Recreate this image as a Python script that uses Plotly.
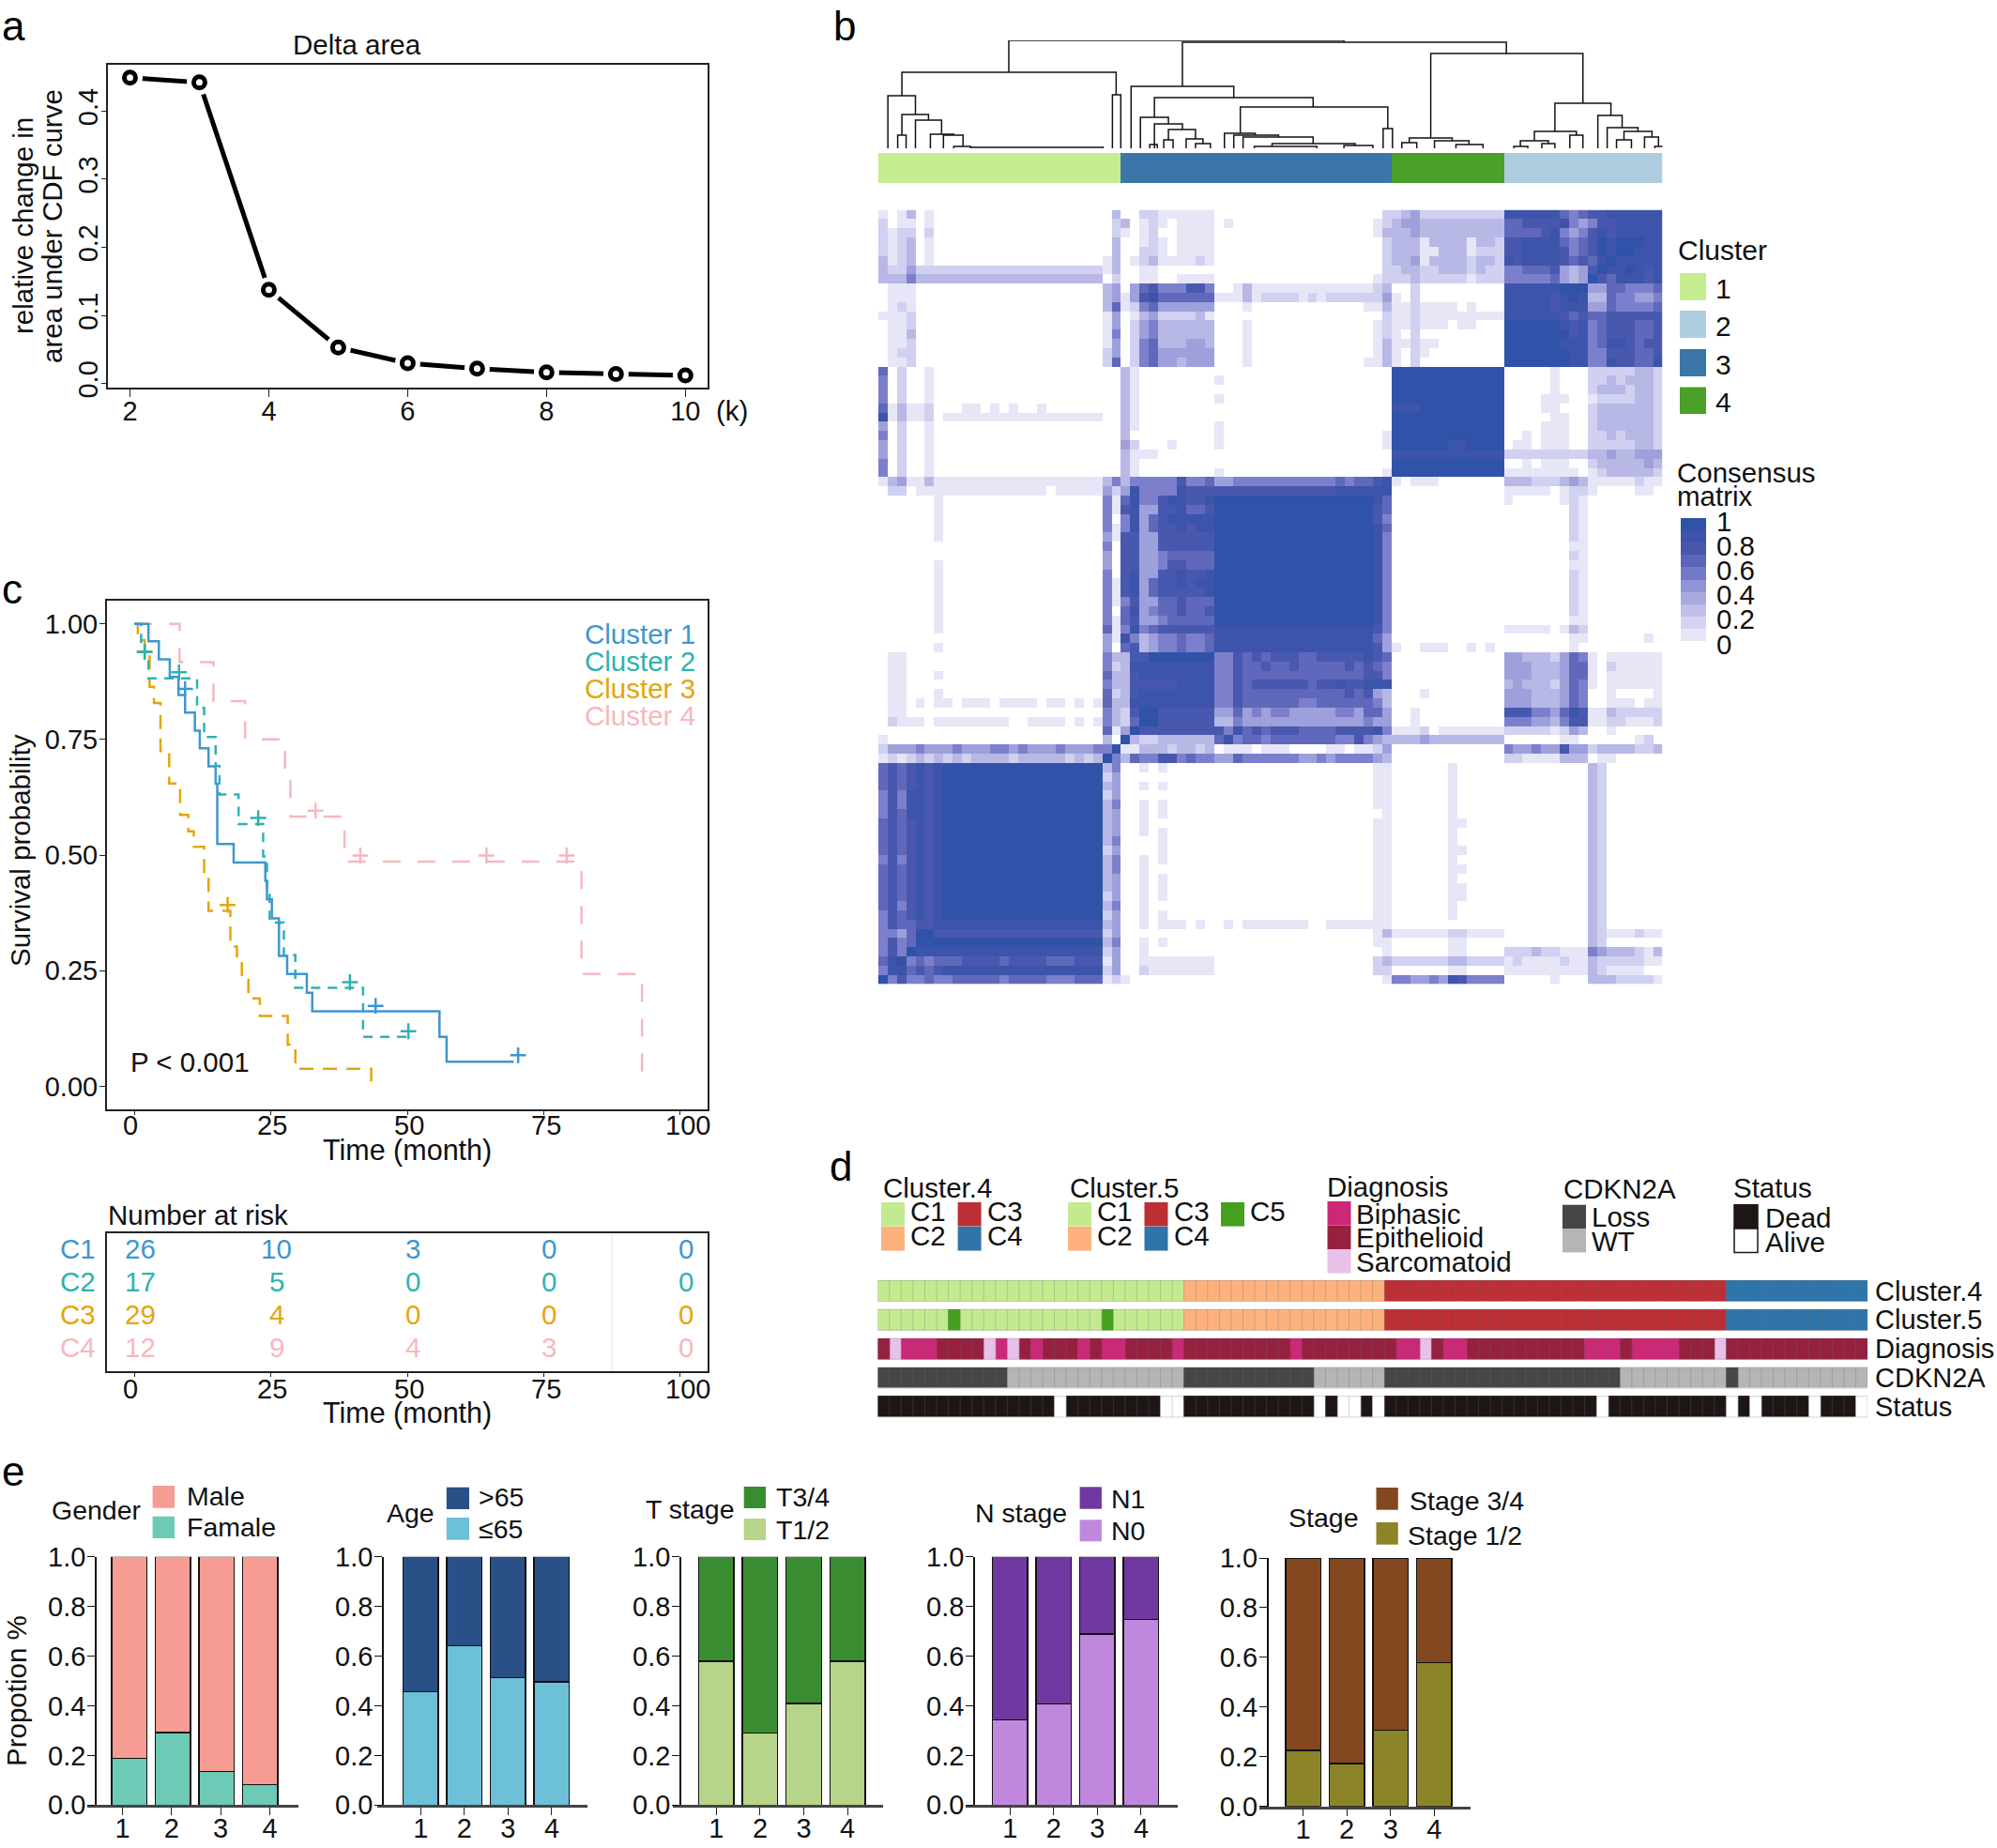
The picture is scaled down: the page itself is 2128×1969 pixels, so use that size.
import plotly.graph_objects as go

W, H = 2128, 1969
FONT = "Liberation Sans"

# panel a
k_values = [2, 3, 4, 5, 6, 7, 8, 9, 10]
delta_area = [0.449, 0.442, 0.1376, 0.053, 0.030, 0.022, 0.0165, 0.014, 0.012]

# panel c, survival steps (month, survival)
c1_time = [0, 2.6, 4.5, 6.5, 8.1, 9.3, 11.1, 12, 13.6, 14.9, 15.2, 18.2, 24, 24.3, 25.2, 26.5, 28, 31.6, 32.6, 55.9, 57.2, 69.5]
c1_surv = [1, .962, .923, .885, .846, .808, .769, .731, .692, .654, .524, .484, .444, .404, .363, .282, .243, .202, .162, .107, .053, .053]
c2_time = [0, 1.25, 2.6, 11.5, 12.8, 14.9, 15.6, 19.1, 23.6, 24.3, 24.8, 27.4, 29.5, 41.9, 50.2]
c2_surv = [1, .939, .882, .818, .755, .693, .631, .567, .497, .425, .354, .284, .213, .107, .107]
c3_time = [0, .65, 1.9, 2.8, 3.6, 4.8, 6.4, 8.4, 9.9, 10.9, 12.8, 13.6, 17.6, 18.8, 19.7, 20.9, 23, 28.1, 29.5, 43.4]
c3_surv = [1, .965, .932, .864, .829, .725, .655, .587, .551, .518, .448, .379, .302, .266, .23, .19, .152, .09, .038, 0]
c4_time = [0, 8.3, 14.5, 20.3, 27.6, 28.6, 38.5, 81.9, 93]
c4_surv = [1, .917, .833, .75, .667, .583, .486, .243, 0]
c1_cens_t, c1_cens_s = [9.3, 44.2, 70.3], [.859, .174, .067]
c2_cens_t, c2_cens_s = [1.9, 8.2, 22.7, 39.5, 50.2], [.939, .895, .58, .225, .119]
c3_cens_t, c3_cens_s = [1.9, 17.1], [.94, .392]
c4_cens_t, c4_cens_s = [33.2, 41.4, 64.5, 79.2], [.596, .499, .499, .499]

risk_times = [0, 25, 50, 75, 100]
risk_c1 = [26, 10, 3, 0, 0]
risk_c2 = [17, 5, 0, 0, 0]
risk_c3 = [29, 4, 0, 0, 0]
risk_c4 = [12, 9, 4, 3, 0]

# panel b, consensus matrix read as levels 0-9, columns grouped C1|C3|C4|C2
heat_rows = [
    "101301 0x19 3 | 00 22 1x6 0x18 2 | 234 2x9 | 888888 656 77 888888",
    "201101 0x19 2 | 3 0 1 2 1 0 1111 0 1 0x15 1 2 | 344 3x9 | 66 7777 8 545 77 8 8888",
    "212202 0x19 2 | 101200 1111 0x17 1 3 | 334 3x9 | 6666 78 545 787 8x5",
    "212301 0x19 3 | 001210 1111 0x18 2 | 333 1 3333 1 33 2 | 77 8888 656 798 99988",
    "212301 0x19 3 | 002210 1111 0x18 2 | 333 1 1 333 1 222 | 77 8888 756 798 99888",
    "312301 0x18 1 3 | 0123 1111 21 0x18 2 | 334 1 3333 2 33 2 | 87 8888 767 689 88888",
    "3224 2x20 1 3 | 00 11 0x24 2 | 233 22 333 2 3 22 | 55 666 7 434 79889878",
    "3335 3x20 0 2 | 00 11 00 1111 0x17 1 2 | 223 2x5 1 222 | 5x5 6 434 97688878",
    "0111 0x20 3 4 | 0 4 6 7 555 77 5 00 1 3 1x13 2 3 | 002 0x9 | 888888 999 44 66 555 6",
    "0111 0x20 3 4 | 1 4 7 8 6x6 11 1 3 1 2 222 1 2 1 2x6 4 | 102 0x9 | 88888 7 898 33 655445",
    "0121 0x20 3 6 | 1 2 5 6 4x6 000 1 0x12 11 3 | 112 1111 0 1 000 | 88888 7 888 44 655556",
    "1112 0x20 1 4 | 0134 2222 3 1 0x18 2 | 112 1x9 | 888888 767 66 777777",
    "0112 0x20 1 4 | 0245 3x6 000 1 0x13 1 2 | 112 111 0 11 000 | 999999 878 56 777667",
    "0113 0x20 1 5 | 0245 3x6 000 1 0x13 1 2 | 102 0x9 | 999999 978 56 777667",
    "0112 0x20 1 4 | 0256 333 44 3 000 1 0x13 1 3 | 112 11 0x7 | 999999 888 56 887677",
    "0122 0x20 2 4 | 0256 4x6 000 1 0x13 1 3 | 102 1 0x8 | 999999 988 55 777667",
    "0112 0x20 2 6 | 0256 44 3 444 000 1 0x12 11 3 | 102 0x9 | 999999 988 55 877668",
    "602001 0x20 | 31 0x27 | 9x12 | 00000 1 000 22222 33 2",
    "502001 0x20 | 31 0x8 1 0x18 | 9x12 | 00000 1 000 22323332",
    "502001 0x20 | 31 0x27 | 9x12 | 00000 1 000 23332332",
    "502001 0x20 | 31 0x8 1 0x18 | 9x12 | 0000 111 00 1 2222 33 2",
    "613112 000 11 0 1 0 1 00 1 0x8 | 31 0x27 | 888 9x9 | 0000 11 000 2 3333 33 2",
    "813112 0 1x17 00 | 31 0x27 | 9x12 | 00000 11 00 2 3333 33 2",
    "402001 0x20 | 31 0x8 1 0x18 | 9x12 | 0000 111 00 2 3333 33 2",
    "502001 0x20 | 30 0x8 1 0x17 1 | 9x12 | 00 1 0 111 00 22 3 2 333 2",
    "402001 0x20 | 42 000 1 0000 1 0x17 1 | 999999 88 9999 | 0 11 0 111 00 22222 33 2",
    "402001 0x20 | 3111 0x25 | 8x12 | 2x9 33 4 33 444",
    "502001 0x20 | 31 0x27 | 9x12 | 00 1 0 111 00 2 3333 3 4 3",
    "502001 0x20 | 31 0x8 1 0x17 1 | 9x12 | 1x8 0 1 2 33333 2",
    "134113 1x18 3 5 | 355555 7 55 6 44 5x11 6 5 66 7 8 | 1 0 111 0x7 | 333 222 343 11111 2 11",
    "0220 1x14 0 1x5 4 2 | 4855558777 7x13 8x6 | 0x12 | 11111 0 1 22 1 0000 11 0",
    "000000 1 0x17 5 1 | 6855788778 9x17 8 6 | 0x12 | 1 00000 1 2 1 0x8",
    "000000 1 0x17 5 1 | 7844778667 9x17 7 6 | 0x12 | 0x7 21 0x8",
    "000000 1 0x17 5 0 | 5846788888 9x17 7 5 | 0x12 | 0x7 21 0x8",
    "000000 1 0x17 5 1 | 5846778788 9x17 8 6 | 0x12 | 0x7 21 0x8",
    "000000 1 0x17 4 1 | 7744777777 9x17 8 5 | 0x12 | 0x7 21 0x8",
    "0x24 5 0 | 7744777777 9x17 8 5 | 0x12 | 0x7 11 0x8",
    "0x24 4 0 | 7744566666 9x17 8 5 | 0x12 | 0x7 21 0x8",
    "000000 1 0x17 4 0 | 7744577666 9x17 8 5 | 0x12 | 0x7 11 0x8",
    "000000 1 0x17 5 0 | 7844778778 9x17 8 5 | 0x12 | 0x7 21 0x8",
    "000000 1 0x17 5 1 | 7846778788 9x17 8 5 | 0x12 | 0x7 21 0x8",
    "000000 1 0x17 5 1 | 7846777778 9x17 8 5 | 0x12 | 0x7 21 0x8",
    "000000 1 0x17 5 1 | 5744667666 9x17 8 5 | 0x12 | 0x7 21 0x8",
    "000000 1 0x17 5 0 | 6845667667 9x17 8 5 | 0x12 | 0x7 21 0x8",
    "000000 1 0x17 5 1 | 6744566666 9x17 8 5 | 0x12 | 0x7 11 0x8",
    "000000 1 0x17 6 1 | 5856777777 8x17 7 5 | 0x12 | 11111 0 1 3 2 0x8",
    "0x24 4 1 | 8534556556 8x17 6 4 | 0x12 | 0x7 11 000000 1 0",
    "000000 1 0x17 4 0 | 6734556556 8x17 7 4 | 1 00 111 00 1 0 1 0 | 0x7 1 0x9",
    "011 0x21 5 3 | 377 9x7 557676 777 66 77777 8 7 6 | 0x12 | 44 333 2 465 1 0 1x6",
    "011 0x21 5 2 | 3 8x9 557667 66 7 66666 7 6 7 6 5 | 0x12 | 444 33 3 466 1 0 2 11111",
    "011 000 1 0x17 6 3 | 3 7 8x8 557666 6x10 7 7 5 | 0x12 | 444 333 466 1 0 1x6",
    "011 0x21 5 3 | 3777778888 557677 7777 6 77 8 77 888 | 0x12 | 3 4 333 2 465 1 0 1x6",
    "011 000 1 0x17 6 2 | 3 7 8x8 557666 6x8 7 6 7 4 3 | 000 1 0x8 | 444 333 465 00 1 0000 1",
    "0 11 0 1 0 11 0 111 0 1111 0 11 0 1 0 1 6 3 | 3 8x9 557666 666 55 666666 5 3 | 0x12 | 444 333 465 00 111 0 11",
    "011 0x21 5 3 | 2 7 9 9 7x6 446454 55 44444 55 4 66 4 | 00 1 0x9 | 777 55 4 687 11 3 22222",
    "0 2 1 1 1 0 1x8 00 1111 0 1 0 1 5 3 | 2 6 9 9 7x6 335444 4x10 5 4 4 | 00 1 0x9 | 555 44 3 577 11 22 111 2",
    "0x24 6 1 | 4 9 7x8 758676 777 6666 7777 8 5 | 111 2 0 1x7 | 22222 1 243 00 1 0x5",
    "1 0x23 3 0 | 9 3 2 2 3x6 685665 6x7 55 7 5 4 3 | 333 4 3x8 | 0x6 11 0x6 1 2 0",
    "2 444 5 444 5 444 55 4 5 444 5 444 55 9 | 1133323323 011101 11 0000 11 0 11 2 4 | 0x12 | 5 44 5 44 7 44 2 3333 22 3",
    "1212323232 3333 2 33333 2 3 2 3 9 5 | 3 6 55 77 5 6 55 446555 555 44 5 4 5555 4 3 | 0x12 | 22 1111 333 0 11 0x5",
    "6767878 9x17 3 5 | 00101 0x22 11 | 0x6 1 0 0x4 | 0x9 32 0x6",
    "6767878 9x17 2 4 | 00000 0x22 11 | 0x6 1 0 0x4 | 0x9 32 0x6",
    "6767878 9x17 3 4 | 00101 0x22 11 | 0x6 1 0 0x4 | 0x9 32 0x6",
    "5758878 9x17 2 4 | 00000 0x22 11 | 0x6 1 0 0x4 | 0x9 32 0x6",
    "5758878 9x17 3 5 | 00101 0x22 11 | 0x6 1 0 0x4 | 0x9 32 0x6",
    "5768878 9x17 3 4 | 00101 0x22 01 | 0x6 1 0 0x4 | 0x9 32 0x6",
    "6767878 9x17 3 4 | 00100 0x22 11 | 0x6 11 0x4 | 0x9 32 0x6",
    "6767878 9x17 3 4 | 00101 0x22 11 | 0x6 1 0 0x4 | 0x9 32 0x6",
    "6767878 9x17 3 5 | 00001 0x22 11 | 0x6 1 0 0x4 | 0x9 32 0x6",
    "6767878 9x17 2 4 | 00001 0x22 11 | 0x6 11 0x4 | 0x9 32 0x6",
    "5757878 9x17 3 5 | 00101 0x22 11 | 0x6 1 0 0x4 | 0x9 32 0x6",
    "6767878 9x17 3 5 | 00100 0x22 11 | 0x6 11 0x4 | 0x9 32 0x6",
    "6767878 9x17 3 4 | 00101 0x22 11 | 0x6 1 0 0x4 | 0x9 32 0x6",
    "6767878 9x17 3 4 | 00101 0x22 11 | 0x6 11 0x4 | 0x9 32 0x6",
    "6767878 9x17 2 4 | 00101 0x22 11 | 0x6 11 0x4 | 0x9 32 0x6",
    "6757878 9x17 3 5 | 00100 0x22 11 | 0x6 1 0 0x4 | 0x9 32 0x6",
    "5767878 9x17 2 4 | 00101 0x22 11 | 0x6 1 0 0x4 | 0x9 32 0x6",
    "5766778 8x17 3 4 | 00 1 0 111 0 1 00 1 0 1x7 00 11111 11 | 0x12 | 0x9 32 0x6",
    "5546997 7x17 2 4 | 0x27 1 3 | 111111 22 1111 | 0x9 3 2 111 2 11",
    "5756999 9x17 3 5 | 00101 0x22 11 | 0x6 11 0x4 | 0x9 32 0x6",
    "5759888 8x17 2 4 | 00100 0x22 01 | 0x6 11 0x4 | 222 3 22 111 54 333 2 1 3",
    "689565666 7777 6 7777 666 777 1 4 | 00 1 1x7 0x17 2 3 | 222222 33 2222 | 1 2 1111 2 11 3 22222 11",
    "5886767 8x17 2 4 | 00 2 1x7 0x17 2 2 | 0x6 11 0x4 | 1x9 32 1111 00",
    "95755655 66666 5 6666 555 666 1 2 | 1 0x27 1 | 55 44 5 4 8 7 5555 | 00000 1 000 3 33 2222 1",
]
level_colors = ["#ffffff", "#e6e6f7", "#d0d0f0", "#b8b8e6", "#9ea0dc", "#7c80cc", "#6068bc", "#4858ae", "#3c54aa", "#3052a8"]
bar_levels = [9, 8.1, 7.2, 6.2, 5.3, 4.4, 3.6, 2.7, 1.8, 1]
bar_labels = ["1", "0.8", "0.6", "0.4", "0.2", "0"]

cluster_sizes = [26, 29, 12, 17]
cluster_names = ["1", "3", "4", "2"]
cluster_colors = {"1": "#c6ec90", "2": "#aecde0", "3": "#3c76a8", "4": "#4aa028"}

# dendrogram merges: left leaf, right leaf, height, left child height, right child height
dend_left = [13.5, 32.1, 2.05, .55, 2.05, 1.6, 3.5, 5.1, 6.5, 7.6, 9.4, 24.6, 26.6, 29.1, 27.6, 29.1, 30.6, 30.1, 32.5, 33.5, 28.6, 38.3, 53.6, 36.6, 37.6, 38.6, 41.7, 39.8, 49.4, 58.7, 56.4, 55.6, 59.1, 61.4, 72, 69.8, 68.3, 67.6, 70.6, 73.6, 76.6, 77.6, 79.4, 78.6, 81.6, 82.7]
dend_right = [49.4, 66.8, 25, 3.5, 4.9, 2.5, 6.3, 7.6, 8.6, 9.4, 23.6, 25.5, 37.6, 46.1, 30.6, 32.1, 33.5, 31.1, 34.3, 35.1, 29.4, 54.1, 54.6, 39.9, 42.4, 46.1, 50.6, 46.5, 52.5, 75, 61, 57.2, 62.8, 64.3, 78, 74.3, 71.3, 69.1, 72, 75, 79.2, 80.9, 82.4, 80.2, 83.1, 83.6]
dend_top = [115, 113, 81, 56, 36, 14, 30, 15, 14, 2, 1, 57, 66, 54, 33, 26, 20, 9, 10, 5, 4, 44, 21, 16, 14, 12, 5, 2, 3, 101, 11, 6, 8, 4, 48, 18, 8, 2, 5, 14, 35, 22, 18, 9, 12, 2]
dend_h_left = [81, 66, 56, 0, 14, 0, 0, 0, 0, 0, 0, 0, 0, 33, 0, 0, 9, 0, 0, 0, 0, 16, 0, 0, 0, 0, 2, 0, 0, 11, 6, 0, 0, 0, 18, 8, 2, 0, 0, 0, 0, 0, 9, 0, 0, 0]
dend_h_right = [113, 101, 57, 36, 30, 0, 15, 14, 2, 1, 0, 0, 54, 44, 26, 20, 10, 0, 5, 0, 0, 21, 0, 14, 12, 5, 3, 0, 0, 48, 8, 0, 4, 0, 35, 14, 5, 0, 0, 0, 22, 18, 12, 0, 2, 0]

# panel d
track_names = ["Cluster.4", "Cluster.5", "Diagnosis", "CDKN2A", "Status"]
cluster4_track = ["C1"] * 26 + ["C2"] * 17 + ["C3"] * 29 + ["C4"] * 12
cluster5_track = ["C1"] * 6 + ["C5"] + ["C1"] * 12 + ["C5"] + ["C1"] * 6 + ["C2"] * 17 + ["C3"] * 29 + ["C4"] * 12
diagnosis_track = ["E"] * 1 + ["S"] + ["B"] * 3 + ["E"] * 4 + ["S", "B", "S", "E", "B"] + ["E"] * 3 + ["B", "E", "B", "B"] + ["E"] * 4 + ["B"] \
    + ["E"] * 9 + ["B"] + ["E"] * 8 + ["B", "B", "S", "E", "B", "B"] + ["E"] * 10 + ["B"] * 3 + ["E"] + ["B"] * 4 + ["E"] * 3 + ["S"] + ["E"] * 12
cdkn2a_track = ["L"] * 11 + ["W"] * 15 + ["L"] * 11 + ["W"] * 6 + ["L"] * 20 + ["W"] * 9 + ["L"] + ["W"] * 11
status_track = ["D"] * 15 + ["A"] + ["D"] * 8 + ["A"] * 2 + ["D"] * 11 + ["A", "D", "A", "A", "D", "A"] + ["D"] * 18 + ["A"] + ["D"] * 10 \
    + ["A", "D", "A"] + ["D"] * 4 + ["A"] + ["D"] * 3 + ["A"]
track_colors = {"C1": "#c4ea90", "C2": "#fdb27e", "C3": "#bc2f35", "C4": "#2f75aa", "C5": "#46a020",
                "B": "#cb2876", "E": "#962040", "S": "#e8c0e8", "L": "#484644", "W": "#b6b4b4", "D": "#1e1614", "A": "#ffffff"}

# panel e
clusters = [1, 2, 3, 4]
gender_low = [.189, .292, .136, .082]
age_low = [.457, .642, .513, .496]
t_low = [.579, .29, .409, .579]
n_low = [.343, .407, .689, .747]
stage_low = [.225, .172, .306, .578]


def expand(row):
    blocks = []
    for block in row.split("|"):
        out = ""
        for tok in block.split():
            if "x" in tok:
                d, n = tok.split("x")
                out += d * int(n)
            else:
                out += tok
        blocks.append(out)
    return blocks


def stepped(colors):
    n = len(colors)
    scale = []
    for i, c in enumerate(colors):
        scale += [[i / n, c], [(i + 1) / n, c]]
    return scale


fig = go.Figure()
layout = {}
notes = []
shapes = []
n_axes = 0


def new_axes(x0, x1, y0, y1, xa, ya):
    global n_axes
    n_axes += 1
    suffix = "" if n_axes == 1 else str(n_axes)
    layout["xaxis" + suffix] = dict(domain=[x0 / W, x1 / W], anchor="y" + suffix, automargin=False, **xa)
    layout["yaxis" + suffix] = dict(domain=[1 - y1 / H, 1 - y0 / H], anchor="x" + suffix, automargin=False, **ya)
    return "x" + suffix, "y" + suffix


def txt(x, y, text, size=29.5, anchor="left", color="#111111", angle=0):
    notes.append(dict(x=x / W, y=1 - y / H, xref="paper", yref="paper", text=text, showarrow=False,
                      xanchor=anchor, yanchor="middle", textangle=angle,
                      font=dict(family=FONT, size=size, color=color)))


def swatch(x0, x1, y0, y1, color, border=None):
    shapes.append(dict(type="rect", xref="paper", yref="paper", x0=x0 / W, x1=x1 / W,
                       y0=1 - y1 / H, y1=1 - y0 / H, fillcolor=color,
                       line=dict(color=border or color, width=1.5 if border else 0)))


HIDDEN = dict(visible=False)

# ---- a: delta area
box = dict(showline=True, mirror=True, linecolor="#222222", linewidth=2, showgrid=False, zeroline=False,
           ticks="outside", tickcolor="#222222", tickfont=dict(family=FONT, size=29, color="#111111"))
xa, ya = new_axes(114.8, 754, 69.3, 413.3,
                  dict(box, range=[1.68, 10.32], tickvals=[2, 4, 6, 8, 10], ticklen=8, ticklabelstandoff=-10),
                  dict(box, range=[-0.0063, 0.4675], tickvals=[0, .1, .2, .3, .4], ticktext=["0.0", "0.1", "0.2", "0.3", "0.4"],
                       tickangle=-90, ticklen=5, ticklabelstandoff=-8))
fig.add_trace(go.Scatter(x=k_values, y=delta_area, mode="lines", line=dict(color="black", width=5), xaxis=xa, yaxis=ya))
fig.add_trace(go.Scatter(x=k_values, y=delta_area, mode="markers", marker=dict(color="white", size=27), xaxis=xa, yaxis=ya))
fig.add_trace(go.Scatter(x=k_values, y=delta_area, mode="markers",
                         marker=dict(color="white", size=12, line=dict(color="black", width=5)), xaxis=xa, yaxis=ya))
txt(380, 48, "Delta area", anchor="center")
txt(780, 438, "(k)", anchor="center")
txt(25, 241, "relative change in", angle=-90, anchor="center")
txt(56, 241, "area under CDF curve", angle=-90, anchor="center")

# ---- b: consensus heatmap
matrix = []
for row in heat_rows:
    blocks = expand(row)
    assert [len(b) for b in blocks] == [26, 29, 12, 17], (row, [len(b) for b in blocks])
    matrix.append([int(ch) for ch in "".join(blocks)])
level_scale = [[i / 9, c] for i, c in enumerate(level_colors)]
xa, ya = new_axes(935.7, 1771.3, 223.6, 1048.5, dict(HIDDEN, range=[-.5, 83.5]), dict(HIDDEN, range=[83.5, -.5]))
fig.add_trace(go.Heatmap(z=matrix, colorscale=level_scale, zmin=0, zmax=9, showscale=False, hoverinfo="skip", xaxis=xa, yaxis=ya))

top_strip = []
for name, size in zip(cluster_names, cluster_sizes):
    top_strip += [cluster_colors[name]] * size
strip_colors = list(cluster_colors.values())
xa, ya = new_axes(935.7, 1771.3, 163, 195, dict(HIDDEN, range=[-.5, 83.5]), HIDDEN)
fig.add_trace(go.Heatmap(z=[[strip_colors.index(c) + .5 for c in top_strip]], colorscale=stepped(strip_colors),
                         zmin=0, zmax=4, showscale=False, hoverinfo="skip", xaxis=xa, yaxis=ya))

dx, dy = [], []
for l, r, t, hl, hr in zip(dend_left, dend_right, dend_top, dend_h_left, dend_h_right):
    dx += [l, l, r, r, None]
    dy += [hl, t, t, hr, None]
xa, ya = new_axes(935.7, 1771.3, 43, 158, dict(HIDDEN, range=[-.5, 83.5]), dict(HIDDEN, range=[0, 115]))
fig.add_trace(go.Scatter(x=dx, y=dy, mode="lines", line=dict(color="#111111", width=1.5), xaxis=xa, yaxis=ya, cliponaxis=False))

txt(1786, 267, "Cluster", size=30)
for i, (name, y0, y1) in enumerate([("1", 291, 320), ("2", 331, 360), ("3", 372, 401), ("4", 412.5, 441)]):
    swatch(1790, 1818, y0, y1, cluster_colors[name])
    txt(1836, (y0 + y1) / 2 + 2, name, size=30, anchor="center")
txt(1785, 503.6, "Consensus")
txt(1785, 528.6, "matrix")
xa, ya = new_axes(1791, 1818, 552, 683, dict(HIDDEN), dict(HIDDEN, range=[9.5, -.5]))
fig.add_trace(go.Heatmap(z=[[v] for v in bar_levels], colorscale=level_scale, zmin=0, zmax=9, showscale=False,
                         hoverinfo="skip", xaxis=xa, yaxis=ya))
for i, lab in enumerate(bar_labels):
    txt(1827, 555 + i * 26.2, lab)

# ---- c: survival curves
km_colors = ["#3f96d0", "#2fb2b0", "#e5a50a", "#f6b8bc"]
km_dashes = ["solid", "10px,8px", "15px,10px", "19px,18px"]
km_series = [(c1_time, c1_surv, c1_cens_t, c1_cens_s), (c2_time, c2_surv, c2_cens_t, c2_cens_s),
             (c3_time, c3_surv, c3_cens_t, c3_cens_s), (c4_time, c4_surv, c4_cens_t, c4_cens_s)]
xa, ya = new_axes(114, 754, 640, 1182,
                  dict(box, range=[-5, 105], tickvals=risk_times, ticklen=4, showticklabels=False),
                  dict(box, range=[-.05, 1.05], tickvals=[0, .25, .5, .75, 1], ticktext=["0.00", "0.25", "0.50", "0.75", "1.00"],
                       ticklen=6, ticklabelstandoff=-4))
for (t, s, ct, cs), col, dash in zip(km_series[::-1], km_colors[::-1], km_dashes[::-1]):
    fig.add_trace(go.Scatter(x=t, y=s, mode="lines", line=dict(color=col, width=2.5, dash=dash, shape="hv"), xaxis=xa, yaxis=ya))
    fig.add_trace(go.Scatter(x=ct, y=cs, mode="markers", marker=dict(symbol="cross-thin", size=12, line=dict(color=col, width=2.5)),
                             xaxis=xa, yaxis=ya))
for i, col in enumerate(km_colors):
    txt(743, 676 + i * 28.7, "Cluster %d" % (i + 1), anchor="right", color=col)
txt(137, 1131, "P &lt; 0.001")
txt(21, 906, "Survival probability", angle=-90, anchor="center")
txt(434, 1225, "Time (month)", anchor="center", size=30.5)
# the reference's month labels sit a little off their ticks
for t, label_x in zip(risk_times, [139, 290, 436, 582, 732.6]):
    txt(label_x, 1199, str(t), anchor="center", size=29)
    txt(label_x, 1480, str(t), anchor="center", size=29)

# risk table
xa, ya = new_axes(114, 754, 1314.3, 1460.7,
                  dict(box, range=[-5, 105], tickvals=risk_times, ticklen=4, showticklabels=False),
                  dict(HIDDEN, range=[4.71, .53]))
layout["yaxis" + xa[1:]]["visible"] = True
layout["yaxis" + xa[1:]].update(showticklabels=False, ticks="", showline=True, mirror=True, linecolor="#222222", linewidth=2,
                                showgrid=False, zeroline=False)
shapes.append(dict(type="line", xref=xa, yref=ya, x0=87.5, x1=87.5, y0=.53, y1=4.71, line=dict(color="#e8e8e8", width=1)))
for i, (vals, col) in enumerate(zip([risk_c1, risk_c2, risk_c3, risk_c4], km_colors)):
    fig.add_trace(go.Scatter(x=[-5], y=[i + 1], mode="markers", marker=dict(opacity=0), xaxis=xa, yaxis=ya))
    notes.append(dict(x=-5, y=i + 1, xref=xa, yref=ya, text="C%d" % (i + 1), showarrow=False, xanchor="right", xshift=-10,
                      font=dict(family=FONT, size=29.5, color=col)))
    for t, v in zip(risk_times, vals):
        notes.append(dict(x=t, y=i + 1, xref=xa, yref=ya, text=str(v), showarrow=False, xshift=6,
                          font=dict(family=FONT, size=29.5, color=col)))
txt(113, 1294, "Number at risk")
txt(434, 1505, "Time (month)", anchor="center", size=30.5)

# ---- d: annotation tracks
tracks = [cluster4_track, cluster5_track, diagnosis_track, cdkn2a_track, status_track]
track_keys = list(track_colors)
xa, ya = new_axes(935.2, 1990, 1360, 1514.2,
                  dict(HIDDEN, range=[-.5, 83.5]),
                  dict(range=[4.5, -.5], tickvals=list(range(5)), ticktext=track_names, side="right", showline=False,
                       showgrid=False, zeroline=False, ticks="", ticklabelstandoff=7,
                       tickfont=dict(family=FONT, size=29, color="#111111")))
fig.add_trace(go.Heatmap(z=[[track_keys.index(v) + .5 for v in tr] for tr in tracks], colorscale=stepped(list(track_colors.values())),
                         zmin=0, zmax=len(track_keys), ygap=8.5, showscale=False, hoverinfo="skip", xaxis=xa, yaxis=ya))
gx, gy = [], []
for r in range(5):
    for i in range(85):
        gx += [i - .5, i - .5, None]
        gy += [r - .361, r + .361, None]
    gx += [-.5, 83.5, None, -.5, 83.5, None]
    gy += [r - .361, r - .361, None, r + .361, r + .361, None]
fig.add_trace(go.Scatter(x=gx, y=gy, mode="lines", line=dict(color="rgba(110,110,110,0.3)", width=1), xaxis=xa, yaxis=ya))

txt(939, 1265, "Cluster.4")
txt(1138, 1265, "Cluster.5")
txt(1412, 1264, "Diagnosis")
txt(1664, 1266.7, "CDKN2A")
txt(1845, 1265, "Status")
for x0, name, y0, col in [(939, "C1", 1281, "C1"), (939, "C2", 1307, "C2"), (1020.6, "C3", 1281, "C3"), (1020.6, "C4", 1307, "C4"),
                          (1138, "C1", 1281, "C1"), (1138, "C2", 1307, "C2"), (1219.5, "C3", 1281, "C3"), (1219.5, "C4", 1307, "C4"),
                          (1301, "C5", 1281, "C5")]:
    swatch(x0, x0 + 25, y0, y0 + 25.6, track_colors[col])
    txt(x0 + 29, y0 + 9, name)
for y0, name, key in [(1280, "Biphasic", "B"), (1305.7, "Epithelioid", "E"), (1331, "Sarcomatoid", "S")]:
    swatch(1414.5, 1439.5, y0, y0 + 25.6, track_colors[key])
    txt(1443, y0 + 13, name)
for y0, name, key in [(1283.7, "Loss", "L"), (1309, "WT", "W")]:
    swatch(1665, 1690, y0, y0 + 25.4, track_colors[key])
    txt(1694, y0 + 13, name)
for y0, name, key in [(1283.7, "Dead", "D"), (1309, "Alive", "A")]:
    swatch(1848, 1873, y0, y0 + 25.4, track_colors[key], border="#1e1614")
    txt(1879, y0 + 14, name)

# ---- e: stacked proportions
panels = [
    dict(low=gender_low, low_c="#6ccab6", high_c="#f79c92", line=(93, 317.6), axis=102, first=137.75, top=1658.7, base=1923.3,
         ticks=[.848, 1.97, 3.09, 4.22]),
    dict(low=age_low, low_c="#6cc0d8", high_c="#2a5088", line=(401.8, 626.3), axis=408, first=448.3, top=1658.7, base=1923.3, ticks=clusters),
    dict(low=t_low, low_c="#b6d48a", high_c="#3a8c30", line=(716.8, 941.3), axis=725, first=763.4, top=1658.7, base=1923.3, ticks=clusters),
    dict(low=n_low, low_c="#c088dc", high_c="#7038a0", line=(1029.4, 1255), axis=1038, first=1076.3, top=1658.7, base=1923.3, ticks=clusters),
    dict(low=stage_low, low_c="#8c8428", high_c="#844820", line=(1342, 1566.5), axis=1350.6, first=1388.6, top=1660, base=1924.7, ticks=clusters),
]
PITCH = 46.55
for p in panels:
    lo = 1 + (p["line"][0] - p["first"]) / PITCH
    hi = 1 + (p["line"][1] - p["first"]) / PITCH
    xa, ya = new_axes(p["line"][0], p["line"][1], p["top"], p["base"],
                      dict(range=[lo, hi], tickvals=p["ticks"], ticktext=["1", "2", "3", "4"], showline=True, linecolor="#444444", linewidth=2.5,
                           ticks="outside", ticklen=8, tickcolor="#222222", showgrid=False, zeroline=False, ticklabelstandoff=-11,
                           tickfont=dict(family=FONT, size=29, color="#111111")),
                      dict(range=[0, 1], tickvals=[0, .2, .4, .6, .8, 1], ticktext=["0.0", "0.2", "0.4", "0.6", "0.8", "1.0"], showline=True,
                           linecolor="#111111", linewidth=1.5, ticks="outside", ticklen=8, tickcolor="#111111", showgrid=False, zeroline=False,
                           ticklabelstandoff=-4, tickfont=dict(family=FONT, size=29, color="#111111")))
    layout["yaxis" + xa[1:]].update(anchor="free", position=p["axis"] / W)
    high = [1 - v for v in p["low"]]
    bar_line = dict(color="#111111", width=1.5)
    fig.add_trace(go.Bar(x=clusters, y=p["low"], width=.807, marker=dict(color=p["low_c"], line=bar_line), xaxis=xa, yaxis=ya))
    fig.add_trace(go.Bar(x=clusters, y=high, width=.807, marker=dict(color=p["high_c"], line=bar_line), xaxis=xa, yaxis=ya))

E_SIZE = 28.5
txt(17, 1802, "Propotion %", angle=-90, anchor="center")
txt(53, 1609, "Gender", size=E_SIZE)
swatch(162.6, 186, 1583, 1606.7, "#f79c92")
swatch(162.6, 186, 1615.7, 1639, "#6ccab6")
txt(197, 1594, "Male", size=E_SIZE)
txt(197, 1627, "Famale", size=E_SIZE)
txt(410, 1611.7, "Age", size=E_SIZE)
swatch(475.8, 500, 1584.7, 1608, "#2a5088")
swatch(475.8, 500, 1617, 1640.7, "#6cc0d8")
txt(508, 1595, "&gt;65", size=E_SIZE)
txt(508, 1629, "≤65", size=E_SIZE)
txt(686, 1608, "T stage", size=E_SIZE)
swatch(792.7, 816, 1584, 1607, "#3a8c30")
swatch(792.7, 816, 1618, 1641, "#b6d48a")
txt(825, 1595, "T3/4", size=E_SIZE)
txt(825, 1630, "T1/2", size=E_SIZE)
txt(1036.5, 1611.7, "N stage", size=E_SIZE)
swatch(1150.6, 1173.9, 1584.3, 1607.7, "#7038a0")
swatch(1150.6, 1173.9, 1619.3, 1642.3, "#c088dc")
txt(1181.5, 1596.7, "N1", size=E_SIZE)
txt(1181.5, 1631, "N0", size=E_SIZE)
txt(1371, 1616.7, "Stage", size=E_SIZE)
swatch(1466.5, 1489.8, 1585, 1608.7, "#844820")
swatch(1466.5, 1489.8, 1622, 1645.7, "#8c8428")
txt(1499.5, 1599, "Stage 3/4", size=E_SIZE)
txt(1497.5, 1635.7, "Stage 1/2", size=E_SIZE)

for letter, x, y in [("a", 14, 27), ("b", 900, 27), ("c", 13, 628), ("d", 896, 1242), ("e", 14, 1567)]:
    txt(x, y, letter, size=44, anchor="center", color="#000000")

fig.update_layout(width=W, height=H, margin=dict(l=0, r=0, t=0, b=0), autosize=False, showlegend=False,
                  paper_bgcolor="white", plot_bgcolor="white", barmode="stack", annotations=notes, shapes=shapes,
                  font=dict(family=FONT, size=29, color="#111111"), **layout)

fig.write_html("out.html", post_script="document.body.style.margin='0';", config=dict(displayModeBar=False))
